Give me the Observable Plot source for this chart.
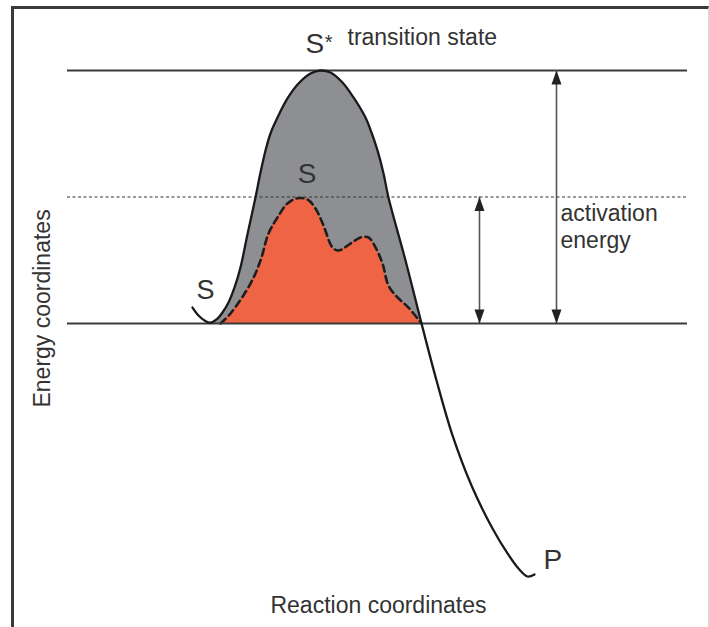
<!DOCTYPE html>
<html>
<head>
<meta charset="utf-8">
<script src="https://cdn.jsdelivr.net/npm/d3@7"></script>
<script src="https://cdn.jsdelivr.net/npm/@observablehq/plot@0.6"></script>
<style>
  html, body { margin: 0; padding: 0; background: #fff; }
  #wrap { position: relative; width: 709px; height: 627px; overflow: hidden; }
  #frame { position: absolute; left: 11px; top: 6px; width: 694px; height: 618px;
           border-top: 3px solid #3a3a3a; border-left: 3px solid #3a3a3a;
           border-right: 1px solid #d8d8d8; border-bottom: 1px solid #d8d8d8; pointer-events: none; }
  svg { display: block; }
</style>
</head>
<body>
<div id="wrap"><div id="frame"></div></div>
<script>
// Uncatalysed reaction path (reaction coordinate, energy)
const pathX = [20.16, 21.13, 22.10, 23.06, 24.03, 25.00, 25.97, 26.94, 27.90, 29.03, 30.32, 31.13, 31.94, 32.74, 33.87, 35.48, 37.26, 39.19, 40.81, 42.42, 44.35, 46.13, 48.06, 49.03, 50.00, 50.97, 51.77, 54.52, 57.10, 59.52, 62.10, 65.16, 68.55, 70.97, 72.74, 74.19, 75.32];
const pathE = [0.126, 0.063, 0.024, 0.006, 0.032, 0.087, 0.166, 0.285, 0.443, 0.705, 0.996, 1.194, 1.368, 1.502, 1.628, 1.779, 1.897, 1.976, 2.000, 1.984, 1.905, 1.787, 1.628, 1.510, 1.368, 1.186, 0.996, 0.498, 0.000, -0.451, -0.885, -1.281, -1.621, -1.818, -1.937, -2.000, -1.984];
// Catalysed reaction path
const catX = [24.68, 26.29, 29.52, 31.13, 32.42, 33.87, 35.48, 37.10, 38.71, 40.00, 41.29, 42.74, 43.71, 45.65, 47.26, 48.55, 49.68, 50.81, 51.77, 53.23, 55.00, 57.10];
const catE = [0.000, 0.079, 0.316, 0.498, 0.711, 0.838, 0.949, 0.990, 0.980, 0.909, 0.775, 0.601, 0.577, 0.632, 0.680, 0.680, 0.601, 0.474, 0.300, 0.206, 0.126, 0.000];
// Energy levels: substrate, catalysed barrier, transition state
const solidLevels = [0, 2];
const dashedLevels = [1];
// Activation-energy arrows
const arrowX = [78.87, 66.45];
const arrowTop = [2, 1];

const path = pathX.map((x, i) => ({x, e: pathE[i]}));
const fillPath = path.filter(d => d.x >= 23.06 && d.x <= 57.10);
const cat = catX.map((x, i) => ({x, e: catE[i]}));
const arrows = arrowX.map((x, i) => ({x, top: arrowTop[i]}));

const upHead = {draw(ctx) { ctx.moveTo(0, 0); ctx.lineTo(-5, 14); ctx.lineTo(5, 14); ctx.closePath(); }};
const downHead = {draw(ctx) { ctx.moveTo(0, 0); ctx.lineTo(-5, -14); ctx.lineTo(5, -14); ctx.closePath(); }};

const font = "'Liberation Sans', Arial, Helvetica, sans-serif";
const ink = "#333";

const chart = Plot.plot({
  width: 709,
  height: 627,
  x: {domain: [0, 100], range: [67, 687], axis: null},
  y: {domain: [-2.4, 2.4], range: [626.6, 19.4], axis: null},
  style: {fontFamily: font, background: "transparent", overflow: "visible"},
  marks: [
    Plot.areaY(fillPath, {x: "x", y1: 0, y2: "e", fill: "#8e8f93", curve: "catmull-rom"}),
    Plot.areaY(cat, {x: "x", y1: 0, y2: "e", fill: "#ee6444", curve: "catmull-rom"}),
    Plot.line(cat, {x: "x", y: "e", stroke: "#1e1e1e", strokeWidth: 2.6, strokeDasharray: "7,4.5", curve: "catmull-rom"}),
    Plot.ruleY(dashedLevels, {x1: 0, x2: 100, stroke: "#333", strokeWidth: 1.2, strokeDasharray: "3,2.5"}),
    Plot.ruleY(solidLevels, {x1: 0, x2: 100, stroke: "#3a3a3a", strokeWidth: 2}),
    Plot.line(path, {x: "x", y: "e", stroke: "#1a1a1a", strokeWidth: 2.3, curve: "catmull-rom"}),
    Plot.ruleX(arrows, {x: "x", y1: 0, y2: "top", stroke: "#555", strokeWidth: 1.6}),
    Plot.dot(arrows, {x: "x", y: "top", symbol: upHead, fill: "#222", stroke: "none"}),
    Plot.dot(arrows, {x: "x", y: 0, symbol: downHead, fill: "#222", stroke: "none"}),
    // labels
    Plot.text(["S"], {x: 38.39, y: 2.142, text: d => d, fontSize: 28, textAnchor: "start", lineAnchor: "bottom", fill: ink}),
    Plot.text(["*"], {x: 41.50, y: 2.170, text: d => d, fontSize: 20, textAnchor: "start", lineAnchor: "bottom", fill: ink}),
    Plot.text(["transition state"], {x: 45.16, y: 2.198, text: d => d, fontSize: 23, textAnchor: "start", lineAnchor: "bottom", fill: ink}),
    Plot.text(["S"], {x: 38.63, y: 1.107, text: d => d, fontSize: 28, textAnchor: "middle", lineAnchor: "bottom", fill: ink}),
    Plot.text(["S"], {x: 22.26, y: 0.190, text: d => d, fontSize: 27, textAnchor: "middle", lineAnchor: "bottom", fill: ink}),
    Plot.text(["P"], {x: 76.77, y: -1.937, text: d => d, fontSize: 28, textAnchor: "start", lineAnchor: "bottom", fill: ink}),
    Plot.text(["activation"], {x: 79.52, y: 0.814, text: d => d, fontSize: 23, textAnchor: "start", lineAnchor: "bottom", fill: ink}),
    Plot.text(["energy"], {x: 79.52, y: 0.593, text: d => d, fontSize: 23, textAnchor: "start", lineAnchor: "bottom", fill: ink}),
    Plot.text(["Reaction coordinates"], {x: 50.16, y: -2.285, text: d => d, fontSize: 23, textAnchor: "middle", lineAnchor: "bottom", fill: ink}),
    Plot.text(["Energy coordinates"], {x: -2.90, y: 0.119, text: d => d, fontSize: 23, rotate: -90, textAnchor: "middle", lineAnchor: "bottom", fill: ink})
  ]
});
document.getElementById("wrap").prepend(chart);
</script>
</body>
</html>
